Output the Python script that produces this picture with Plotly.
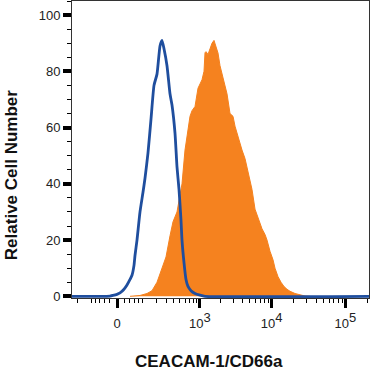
import math
import plotly.graph_objects as go

# Histogram data on the display (channel) scale
control_x = [0, 28, 38, 41, 45, 48, 52, 55, 58, 60, 62, 63, 65, 68, 71, 73, 76, 79, 82, 85, 88,
             90, 92, 95, 98, 100, 103, 105, 107, 109, 110, 112, 114, 116, 119, 123, 128, 133, 297]
control_y = [0, 0, 0.1, 0.3, 0.7, 1.2, 2.5, 4, 6, 7.5, 11, 14.5, 20, 30, 37, 42, 51, 63, 75, 79, 89,
             91, 88, 82, 72, 68, 58, 46, 38, 27, 20, 12, 6, 3.5, 2, 1, 0.4, 0, 0]

stained_x = [58, 68, 75, 80, 85, 91, 94, 98, 101, 105, 108, 110, 113, 116, 118, 120, 123, 126, 130,
             132, 133, 134, 136, 138, 140, 142, 143, 146, 148, 151, 155, 158, 161, 163, 165, 168,
             170, 173, 176, 178, 180, 183, 186, 190, 193, 195, 198, 201, 203, 206, 209, 212, 215,
             218, 223, 228, 233, 238]
stained_y = [0, 0.3, 1, 2, 5, 11, 14, 21.5, 26.5, 30, 36, 40, 52, 60, 64, 66, 67.5, 74, 77, 80,
             86.6, 87, 86, 88, 90, 91, 90, 86.5, 82, 78, 72, 65, 64, 60.5, 58, 55, 52, 49, 44, 41,
             38, 31, 28, 24, 22, 20, 16, 13, 10, 7, 5, 3.5, 2.5, 1.8, 1, 0.5, 0.1, 0]

major_vals = [0, 1e3, 1e4, 1e5]
sup = "<sup><span style='font-size:13px'>{}</span></sup>"
major_text = ["0", "10" + sup.format(3), "10" + sup.format(4), "10" + sup.format(5)]
minor_vals = ([-m for m in range(20, 100, 20)] + [-m for m in range(100, 1000, 100)] +
              list(range(20, 100, 20)) + list(range(100, 1000, 100)) +
              [m * 1000 for m in range(2, 10)] + [m * 10000 for m in range(2, 10)] + [2e5])

X_MAX = 297


def disp(v):
    """logicle-like display transform into channel units"""
    s = 1 if v >= 0 else -1
    return 45 + 74 * s * math.log10(1 + abs(v) / 82)


minor_pos = [disp(v) for v in minor_vals if 0 <= disp(v) <= X_MAX]

fig = go.Figure()
fig.add_trace(go.Scatter(x=stained_x, y=stained_y, mode="lines", fill="tozeroy",
                         line=dict(color="#f5821f", width=1), fillcolor="#f5821f",
                         hoverinfo="skip"))
fig.add_trace(go.Scatter(x=control_x, y=control_y, mode="lines",
                         line=dict(color="#1f4e9e", width=2.8, shape="spline", smoothing=0.5),
                         hoverinfo="skip"))

fig.update_layout(
    width=372, height=373,
    margin=dict(l=72, r=3, t=1, b=75),
    paper_bgcolor="white", plot_bgcolor="white",
    showlegend=False,
    font=dict(family="Liberation Sans, Arial, sans-serif", size=13, color="#222"),
    xaxis=dict(range=[0, X_MAX], showgrid=False, zeroline=False,
               showline=True, linecolor="#333", linewidth=1, mirror=True,
               tickmode="array", tickvals=[disp(v) for v in major_vals], ticktext=major_text,
               ticks="outside", ticklen=9, tickwidth=3, tickcolor="black",
               ticklabelstandoff=4,
               minor=dict(tickmode="array", tickvals=minor_pos, ticks="outside",
                          ticklen=4, tickwidth=1.2, tickcolor="black")),
    yaxis=dict(range=[-0.6, 105], showgrid=False, zeroline=False,
               showline=True, linecolor="#333", linewidth=1, mirror=True,
               tickmode="array", tickvals=[0, 20, 40, 60, 80, 100],
               ticks="outside", ticklen=8, tickwidth=3.5, tickcolor="black",
               minor=dict(dtick=5, ticks="outside", ticklen=4, tickwidth=1.2, tickcolor="black")),
    annotations=[
        dict(text="<b>CEACAM-1/CD66a</b>", xref="paper", yref="paper",
             x=0.461, y=-0.214, showarrow=False, xanchor="center", yanchor="middle",
             font=dict(size=17, color="#111")),
        dict(text="<b>Relative Cell Number</b>", xref="paper", yref="paper",
             x=-0.205, y=0.414, showarrow=False, xanchor="center", yanchor="middle",
             textangle=-90, font=dict(size=17, color="#111")),
    ],
)

fig.write_html("out.html", config={"displayModeBar": False},
               post_script="document.body.style.margin='0px';")
